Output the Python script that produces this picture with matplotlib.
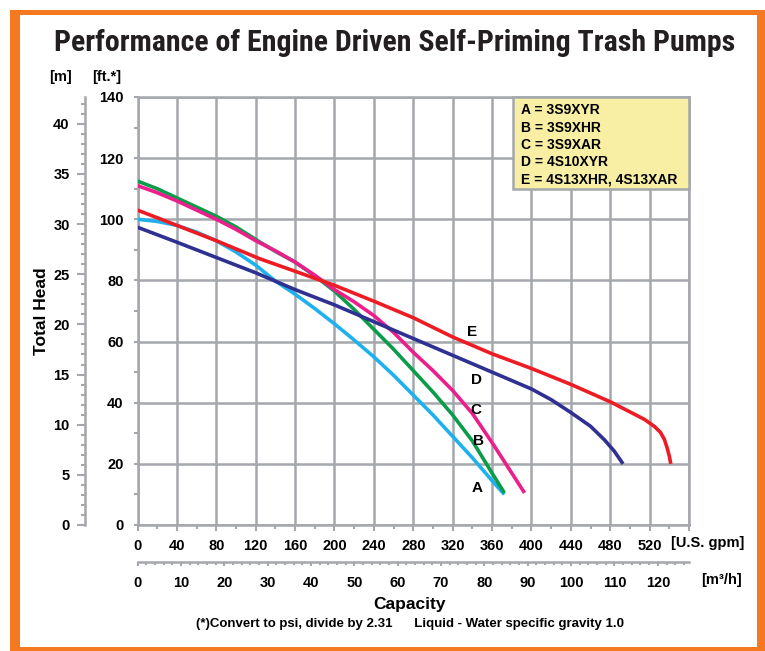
import matplotlib
matplotlib.use("Agg")
import matplotlib.pyplot as plt
from matplotlib.patches import Rectangle
from matplotlib import font_manager

plt.rcParams['font.family'] = ['Liberation Sans', 'DejaVu Sans']
plt.rcParams['font.weight'] = 'bold'

# pump curves: capacity [U.S. gpm] vs total head [ft]
a_gpm = [0, 20, 40, 60, 80, 100, 120, 140, 160, 180, 200, 220, 240, 260, 280, 300, 320, 340, 360, 372.5]
a_ft = [100, 99.3, 98, 95.8, 93, 89.3, 85, 79.8, 75.5, 70.8, 65.8, 60.5, 55, 49, 42.5, 36, 29, 22, 14.5, 10]

b_gpm = [0, 20, 40, 60, 80, 100, 124, 140, 160, 180, 200, 220, 240, 260, 280, 300, 320, 340, 360, 372.5]
b_ft = [112.5, 110, 107, 104, 101, 97.5, 92.6, 89.5, 86, 81.5, 76.5, 70.5, 64, 57.5, 50.5, 43.5, 36, 27.5, 17, 10.5]

c_gpm = [0, 20, 40, 60, 80, 100, 120, 140, 160, 180, 200, 220, 240, 260, 280, 300, 320, 340, 362, 380, 393]
c_ft = [111, 108.7, 106, 103, 100, 96.7, 93, 89.7, 86, 81.7, 77, 73, 68.5, 63, 56.5, 50.5, 44, 36.5, 26, 17, 10.5]

d_gpm = [0, 40, 80, 120, 160, 200, 240, 280, 320, 360, 400, 420, 440, 460, 474, 484, 493]
d_ft = [97.4, 92.5, 87.5, 82.5, 77, 72, 66.5, 61, 55.5, 50, 44.5, 41, 36.8, 32.3, 27.9, 24.2, 20]

e_gpm = [0, 40, 80, 124, 160, 200, 240, 280, 320, 360, 400, 440, 480, 500, 515, 525, 531, 535, 538, 540, 541.5]
e_ft = [103, 98, 93, 87.1, 83, 78.4, 73.2, 67.8, 61.5, 56, 51.2, 46, 40.3, 37, 34.5, 32.2, 30.3, 28, 25, 22.5, 20]

curve_names = ['A', 'B', 'C', 'D', 'E']
curve_colors = ['#1eb1ed', '#0b9c4a', '#ec1e8c', '#2e3192', '#ed1c24']
label_pos = [(345, 12), (346, 27.5), (344, 37.7), (344, 47.5), (340, 63)]
legend_lines = ['A = 3S9XYR', 'B = 3S9XHR', 'C = 3S9XAR', 'D = 4S10XYR', 'E = 4S13XHR, 4S13XAR']

W, H = 765, 651
fig = plt.figure(figsize=(W / 100, H / 100), dpi=100)
fig.patch.set_facecolor('white')


def fx(px):
    return px / W


def fy(py):
    return 1 - py / H


# pick a narrow bold face for the title if one is installed
names = {f.name for f in font_manager.fontManager.ttflist}
title_font = None
for cand in ['Roboto Condensed', 'Liberation Sans Narrow', 'Open Sans Condensed', 'Noto Sans Condensed']:
    if cand in names:
        title_font = dict(family=[cand, 'Liberation Sans'], fontsize=21.5)
        break
if title_font is None:
    cond = [f for f in font_manager.fontManager.ttflist
            if f.name == 'DejaVu Sans' and 'condensed' in str(f.stretch)]
    if cond:
        title_font = dict(family=['DejaVu Sans'], stretch='condensed', fontsize=18)
    else:
        title_font = dict(family=['Liberation Sans'], fontsize=18)

# orange frame
fig.patches.append(Rectangle((fx(10), fy(661)), 1, 1, transform=fig.transFigure,
                             facecolor='#f47920', edgecolor='none', zorder=-10))
fig.patches.append(Rectangle((fx(20), fy(647)), fx(757) - fx(20), fy(15) - fy(647),
                             transform=fig.transFigure, facecolor='white', edgecolor='none', zorder=-9))

grid_c = '#a4a7ab'
ax = fig.add_axes([fx(137.5), fy(525), fx(689) - fx(137.5), fy(97) - fy(525)])
ax.set_facecolor('white')
ax.set_xlim(0, 560)
ax.set_ylim(0, 140)
ax.set_xticks(range(0, 561, 40))
ax.set_xticks(range(0, 561, 20), minor=True)
ax.set_yticks(range(0, 141, 20))
ax.set_yticks(range(0, 141, 10), minor=True)
ax.set_xticklabels([str(v) for v in range(0, 521, 40)] + [''])
ax.grid(True, which='major', color=grid_c, lw=1.8)
for s in ax.spines.values():
    s.set_color(grid_c)
    s.set_linewidth(1.8)
ax.tick_params(which='both', color=grid_c, width=1.5, labelsize=10.5)
ax.tick_params(axis='x', which='major', length=4, pad=6)
ax.tick_params(axis='x', which='minor', length=3)
ax.tick_params(axis='y', which='major', length=3, pad=7)
ax.tick_params(axis='y', which='minor', length=3)

curves = [(a_gpm, a_ft), (b_gpm, b_ft), (c_gpm, c_ft), (d_gpm, d_ft), (e_gpm, e_ft)]
for (xs, ys), col in zip(curves, curve_colors):
    ax.plot(xs, ys, color=col, lw=2.6, solid_joinstyle='round', solid_capstyle='butt', zorder=3)
for name, (lx, ly) in zip(curve_names, label_pos):
    ax.text(lx, ly, name, fontsize=11, ha='center', va='center', zorder=4)

# legend box
lx0 = (513 - 137.5) / 551.5
ly0 = (525 - 189) / 428
ax.add_patch(Rectangle((lx0, ly0), 1 - lx0, 1 - ly0, transform=ax.transAxes, facecolor='#f8efa5',
                       edgecolor=grid_c, lw=1.8, zorder=5, clip_on=False))
ax.text((521 - 137.5) / 551.5, (525 - 145) / 428, '\n'.join(legend_lines), transform=ax.transAxes,
        ha='left', va='center', multialignment='left', fontsize=10, linespacing=1.3, zorder=6)

# metre scale on the left
my = ax.secondary_yaxis(-0.0952, functions=(lambda f: f / 3.281, lambda m: m * 3.281))
my.set_yticks(range(0, 41, 5))
my.set_yticks(range(0, 43, 1), minor=True)
my.spines['left'].set_color(grid_c)
my.spines['left'].set_linewidth(1.8)
my.tick_params(which='both', color=grid_c, width=1.5, labelsize=10.5)
my.tick_params(which='major', length=6, pad=5)
my.tick_params(which='minor', length=3)

# m3/h scale below
mx = ax.secondary_xaxis(-0.0864, functions=(lambda g: g / 4.403, lambda q: q * 4.403))
mx.set_xticks(range(0, 121, 10))
mx.set_xticks(range(0, 128, 2), minor=True)
mx.spines['bottom'].set_color(grid_c)
mx.spines['bottom'].set_linewidth(1.8)
mx.tick_params(which='both', color=grid_c, width=1.5, labelsize=10.5)
mx.tick_params(which='major', length=3, pad=7)
mx.tick_params(which='minor', length=2)

tc = '#231f20'
fig.text(fx(395), fy(43), 'Performance of Engine Driven Self-Priming Trash Pumps',
         ha='center', va='center', color=tc, **title_font)
fig.text(fx(60), fy(77), '[m]', ha='center', va='center', fontsize=10.5)
fig.text(fx(107), fy(77), '[ft.*]', ha='center', va='center', fontsize=10.5)
fig.text(fx(42), fy(311), 'Total Head', ha='center', va='center', rotation=90, fontsize=12.5)
fig.text(fx(671), fy(543), '[U.S. gpm]', ha='left', va='center', fontsize=10.5)
fig.text(fx(742), fy(580), '[m³/h]', ha='right', va='center', fontsize=10.5)
fig.text(fx(410), fy(605), 'Capacity', ha='center', va='center', fontsize=12.5)
fig.text(fx(410), fy(624), '(*)Convert to psi, divide by 2.31      Liquid - Water specific gravity 1.0',
         ha='center', va='center', fontsize=9.5)

fig.savefig('out.png', dpi=100)
